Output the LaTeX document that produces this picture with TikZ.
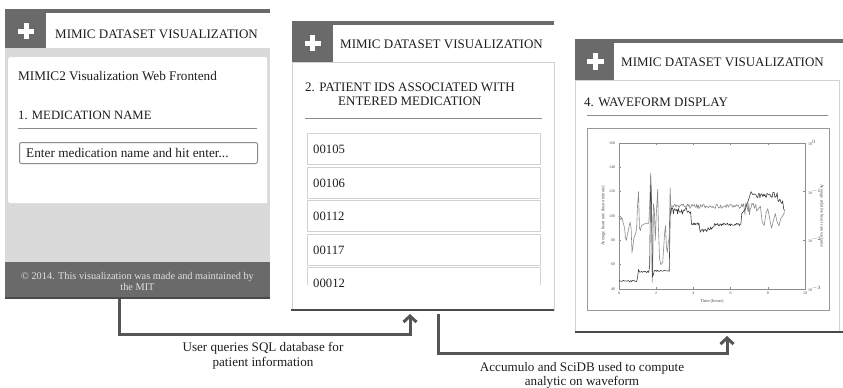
\documentclass[tikz,border=0pt]{standalone}
\usepackage{fontspec}
\setmainfont{Liberation Serif}
\usetikzlibrary{arrows.meta,calc}
\definecolor{bar}{HTML}{6A6A6A}
\definecolor{panelgray}{HTML}{DADADA}
\definecolor{bordergray}{HTML}{D2D2D2}
\definecolor{linegray}{HTML}{8C8C8C}
\definecolor{arrowgray}{HTML}{555555}
\definecolor{textgray}{HTML}{1E1E1E}
\definecolor{darkline}{HTML}{4A4A4A}
\tikzset{
  topbar/.style={fill=bar, draw=none},
  plusbox/.style={fill=bar, draw=none, inner sep=0, anchor=north west},
  plusarm/.style={fill=white, draw=none},
  title/.style={anchor=west, inner sep=0, text=textgray, font=\fontsize{13}{15}\selectfont},
  heading/.style={anchor=west, inner sep=0, text=textgray, font=\fontsize{13}{15}\selectfont},
  body/.style={draw=bordergray, line width=1.2pt, fill=white, inner sep=0, anchor=north west},
  bottomline/.style={draw=darkline, line width=2.5pt},
  sepline/.style={draw=linegray, line width=0.9pt},
  itembox/.style={draw=bordergray, line width=1pt, fill=white, inner sep=0, anchor=north west, minimum width=233pt, minimum height=31pt},
  itemtext/.style={anchor=west, inner sep=0, text=textgray, font=\fontsize{12.7}{14}\selectfont},
  conn/.style={draw=arrowgray, line width=3pt, -{Straight Barb[length=6pt,width=13pt,line width=3pt]}},
  connlabel/.style={align=center, inner sep=0, text=textgray, font=\fontsize{13.1}{14.5}\selectfont},
  ticklab/.style={inner sep=0, font=\fontsize{4}{4}\selectfont, text=black!70},
  trace/.style={line width=0.6pt, line join=round},
}
\begin{document}
\begin{tikzpicture}[x=1pt,y=-1pt]
\useasboundingbox (0,0) rectangle (843,388);
\fill[white] (0,0) rectangle (843,388);

% ===== Panel 1 =====
\fill[topbar] (5,9) rectangle (270,12.5);
\node[plusbox, minimum width=41pt, minimum height=39pt] (p1plus) at (5,9) {};
\coordinate (p1pc) at (26,31);
\fill[plusarm] ($(p1pc)+(-8,-2.5)$) rectangle ($(p1pc)+(8,2.5)$);
\fill[plusarm] ($(p1pc)+(-2.5,-8)$) rectangle ($(p1pc)+(2.5,8)$);
\node[title] (p1title) at (55,34) {MIMIC DATASET VISUALIZATION};
\node[fill=panelgray, inner sep=0, anchor=north west, minimum width=265pt, minimum height=214pt] (p1gray) at (5,48) {};
\node[fill=white, rounded corners=2pt, inner sep=0, anchor=north west, minimum width=259pt, minimum height=146pt] (p1card) at (8,57) {};
\node[heading, font=\fontsize{13.2}{15}\selectfont] (p1sub) at (18,76) {MIMIC2 Visualization Web Frontend};
\node[heading, font=\fontsize{12.7}{15}\selectfont] (p1head) at (18,115) {1. MEDICATION NAME};
\draw[sepline] (18,128) -- (257,128);
\node[draw=black!45, line width=1pt, rounded corners=2pt, fill=white, inner sep=0, anchor=north west, minimum width=238pt, minimum height=21pt] (p1input) at (19,142) {};
\node[itemtext, font=\fontsize{13.3}{15}\selectfont] (p1inputtext) at (26,152.5) {Enter medication name and hit enter...};
\node[fill=bar, inner sep=0, anchor=north west, minimum width=265pt, minimum height=36pt] (p1foot) at (5,262) {};
\draw[draw=darkline, line width=1.5pt] (5,298) -- (270,298);
\node[align=center, inner sep=0, text=white!88!black, font=\fontsize{10.3}{11.5}\selectfont] (p1foottext) at (137.5,281.5) {© 2014. This visualization was made and maintained by\\the MIT};

% ===== Panel 2 =====
\fill[topbar] (292,21) rectangle (554,24.5);
\node[body, minimum width=262pt, minimum height=248pt] (p2body) at (292,62) {};
\node[plusbox, minimum width=41pt, minimum height=38pt] (p2plus) at (292,24) {};
\coordinate (p2pc) at (312.5,43);
\fill[plusarm] ($(p2pc)+(-8,-2.5)$) rectangle ($(p2pc)+(8,2.5)$);
\fill[plusarm] ($(p2pc)+(-2.5,-8)$) rectangle ($(p2pc)+(2.5,8)$);
\node[title] (p2title) at (340,44) {MIMIC DATASET VISUALIZATION};
\draw[bottomline] (291,310) -- (554,310);
\node[heading] (p2head) at (305,87) {2. PATIENT IDS ASSOCIATED WITH};
\node[heading] (p2head2) at (338,101) {ENTERED MEDICATION};
\draw[sepline] (305,118) -- (542,118);
\node[itembox] (i1) at (307,133) {};
\node[itemtext] at ($(i1.west)+(6,0)$) {00105};
\node[itembox] (i2) at (307,167) {};
\node[itemtext] at ($(i2.west)+(6,0)$) {00106};
\node[itembox] (i3) at (307,200) {};
\node[itemtext] at ($(i3.west)+(6,0)$) {00112};
\node[itembox] (i4) at (307,234) {};
\node[itemtext] at ($(i4.west)+(6,0)$) {00117};
\coordinate (i5a) at (307,285);
\coordinate (i5b) at (307,267);
\coordinate (i5c) at (540,267);
\coordinate (i5d) at (540,285);
\draw[draw=bordergray, line width=1pt] (i5a) -- (i5b) -- (i5c) -- (i5d);
\node[itemtext] (i5t) at (313,283) {00012};

% ===== Panel 3 =====
\fill[topbar] (575,39) rectangle (843,42.5);
\node[body, minimum width=264pt, minimum height=252pt] (p3body) at (575,80) {};
\node[plusbox, minimum width=39pt, minimum height=38pt] (p3plus) at (575,42) {};
\coordinate (p3pc) at (595,61);
\fill[plusarm] ($(p3pc)+(-8.5,-2.5)$) rectangle ($(p3pc)+(8.5,2.5)$);
\fill[plusarm] ($(p3pc)+(-2.5,-8.5)$) rectangle ($(p3pc)+(2.5,8.5)$);
\node[title] (p3title) at (621,62.5) {MIMIC DATASET VISUALIZATION};
\draw[bottomline] (575,332) -- (843,332);
\node[heading] (p3head) at (584,102) {4. WAVEFORM DISPLAY};
\draw[sepline] (587,115) -- (828,115);
\node[draw=black!40, line width=1pt, fill=white, inner sep=0, anchor=north west, minimum width=242pt, minimum height=182pt] (chart) at (587,128) {};

% plot frame
\node[draw=black!45, line width=0.5pt, inner sep=0, anchor=north west, minimum width=186pt, minimum height=146pt] (plot) at (619,143) {};
\begin{scope}[shift={(619pt,-289pt)}, x=18.6pt, y=1.217pt]
  % ticks
  \foreach \t in {0,2,...,10} {
    \draw[black!45, line width=0.4pt] (\t,0) -- (\t,2);
    \draw[black!45, line width=0.4pt] (\t,120) -- (\t,118);
    \node[ticklab, anchor=north] at (\t,-2) {\t};
  }
  \foreach \h in {40,60,...,160} {
    \draw[black!45, line width=0.4pt] (0,\h-40) -- (0.12,\h-40);
    \node[ticklab, anchor=east] at (-0.2,\h-40) {\h};
  }
  \foreach \h/\e in {160/0,120/{-1},80/{-2},40/{-3}} {
    \draw[black!45, line width=0.4pt] (10,\h-40) -- (9.88,\h-40);
    \node[ticklab, anchor=west] at (10.15,\h-40) {10$^{\e}$};
  }
  \node[ticklab, anchor=north, font=\fontsize{4.5}{5}\selectfont] (xlab) at (5,-8) {Time (hours)};
  \node[ticklab, rotate=90, font=\fontsize{4.5}{5}\selectfont] (ylab) at (-0.85,60) {Average heart rate (beats/minute)};
  \node[ticklab, rotate=-90, font=\fontsize{4.5}{5}\selectfont] (y2lab) at (10.9,60) {Average relative heart rate variance};

  \pgfmathsetseed{7}
  % light trace
  \draw[trace, black!45] (0,60) -- (0.1,57) -- (0.15,59) -- (0.2,56) -- (0.3,50) -- (0.35,42) -- (0.4,40) -- (0.45,45) -- (0.5,48) -- (0.55,52) -- (0.6,55) -- (0.65,50) -- (0.7,30) -- (0.75,35) -- (0.8,42) -- (0.9,46) -- (0.95,50) -- (1.0,70) -- (1.05,80) -- (1.1,50) -- (1.15,48) -- (1.2,52) -- (1.3,53) -- (1.45,54) -- (1.6,54) -- (1.65,70) -- (1.7,95) -- (1.75,80) -- (1.78,5) -- (1.82,20) -- (1.85,70) -- (1.9,65) -- (1.95,40) -- (2.0,60) -- (2.08,82) -- (2.12,50) -- (2.18,25) -- (2.25,20) -- (2.35,22) -- (2.45,45) -- (2.5,52) -- (2.55,35) -- (2.6,30) -- (2.65,38) -- (2.7,42) -- (2.75,83) -- (2.8,62)
    -- plot[domain=2.85:6.55, samples=90] (\x, {68+1.8*rand})
    -- plot[domain=6.6:7.05, samples=14] (\x, {65+6*rand})
    -- plot[domain=7.1:7.4, samples=8] (\x, {70-10*(\x-7.1)+3*rand})
    -- (7.6,68) -- (7.7,55) -- (7.8,52) -- (7.9,62) -- (8.0,66) -- (8.1,58) -- (8.2,50) -- (8.3,56) -- (8.4,62) -- (8.5,55) -- (8.6,52) -- (8.7,58) -- (8.8,60) -- (8.9,63);
  % dark trace
  \draw[trace, black!75] (0,7) -- plot[domain=0.05:0.95, samples=20] (\x, {6.5+0.6*rand}) -- (1.0,10) -- (1.05,16)
    -- plot[domain=1.1:1.6, samples=10] (\x, {14+0.6*rand}) -- (1.65,20) -- (1.7,85) -- (1.75,70) -- (1.8,10) -- (1.85,12)
    -- plot[domain=1.9:2.7, samples=16] (\x, {15+0.6*rand}) -- (2.75,60) -- (2.8,66)
    -- plot[domain=2.85:3.85, samples=28] (\x, {64+2.5*rand})
    -- plot[domain=3.9:4.3, samples=12] (\x, {53+1.5*rand})
    -- plot[domain=4.35:4.75, samples=12] (\x, {48+1.5*rand})
    -- plot[domain=4.8:5.1, samples=8] (\x, {50+1.5*rand})
    -- plot[domain=5.15:6.55, samples=36] (\x, {53+1.2*rand})
    -- (6.6,62) -- (6.8,66) -- (7.0,75) -- (7.1,80)
    -- plot[domain=7.15:8.5, samples=36] (\x, {77+2.5*rand})
    -- plot[domain=8.55:8.8, samples=8] (\x, {72+2*rand}) -- (8.85,66) -- (8.9,64);
\end{scope}

% ===== Connectors =====
\coordinate (a1s) at (119,299);
\coordinate (a1c) at (119,334);
\coordinate (a1e) at (410,314);
\draw[conn] (a1s) -- (a1c) -| (a1e);
\node[connlabel] (l1) at (263,356) {User queries SQL database for\\patient information};

\coordinate (a2s) at (438,314);
\coordinate (a2c) at (438,353);
\coordinate (a2e) at (727,336);
\draw[conn] (a2s) -- (a2c) -| (a2e);
\node[connlabel] (l2) at (582,375.5) {Accumulo and SciDB used to compute\\analytic on waveform};
\end{tikzpicture}
\end{document}
